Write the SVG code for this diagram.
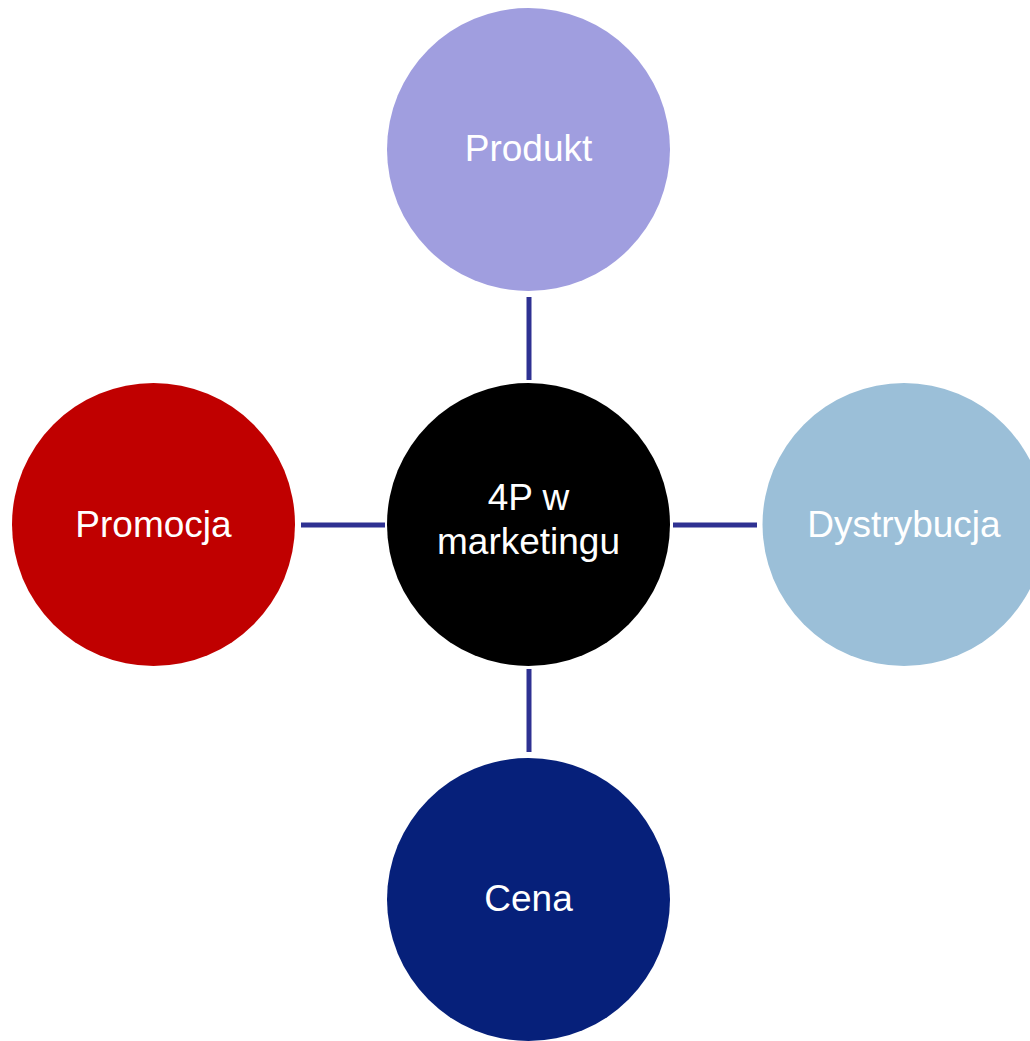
<svg xmlns="http://www.w3.org/2000/svg" width="1030" height="1041" viewBox="0 0 1030 1041">
<style>
.lbl{font-family:"Liberation Sans",Arial,sans-serif;font-size:37px;fill:#ffffff;text-anchor:middle}
.conn{stroke:#2E3192;stroke-width:5;fill:none}
</style>
<rect width="1030" height="1041" fill="#ffffff"/>
<g id="connectors">
<line class="conn" x1="529" y1="297" x2="529" y2="380"/>
<line class="conn" x1="529" y1="669" x2="529" y2="752"/>
<line class="conn" x1="301" y1="525" x2="385" y2="525"/>
<line class="conn" x1="673" y1="525" x2="757" y2="525"/>
</g>
<g id="node-center">
<circle cx="528.5" cy="524.5" r="141.5" fill="#000000"/>
<text class="lbl" x="528.5" y="510">4P w</text>
<text class="lbl" x="528.5" y="554">marketingu</text>
</g>
<g id="node-produkt">
<circle cx="528.5" cy="149.5" r="141.5" fill="#A09EDF"/>
<text class="lbl" x="528.5" y="161">Produkt</text>
</g>
<g id="node-promocja">
<circle cx="153.5" cy="524.5" r="141.5" fill="#C00000"/>
<text class="lbl" x="153.5" y="537">Promocja</text>
</g>
<g id="node-dystrybucja">
<circle cx="904" cy="524.5" r="141.5" fill="#9BBFD8"/>
<text class="lbl" x="904" y="537">Dystrybucja</text>
</g>
<g id="node-cena">
<circle cx="528.5" cy="899.5" r="141.5" fill="#06207A"/>
<text class="lbl" x="528.5" y="911">Cena</text>
</g>
</svg>
